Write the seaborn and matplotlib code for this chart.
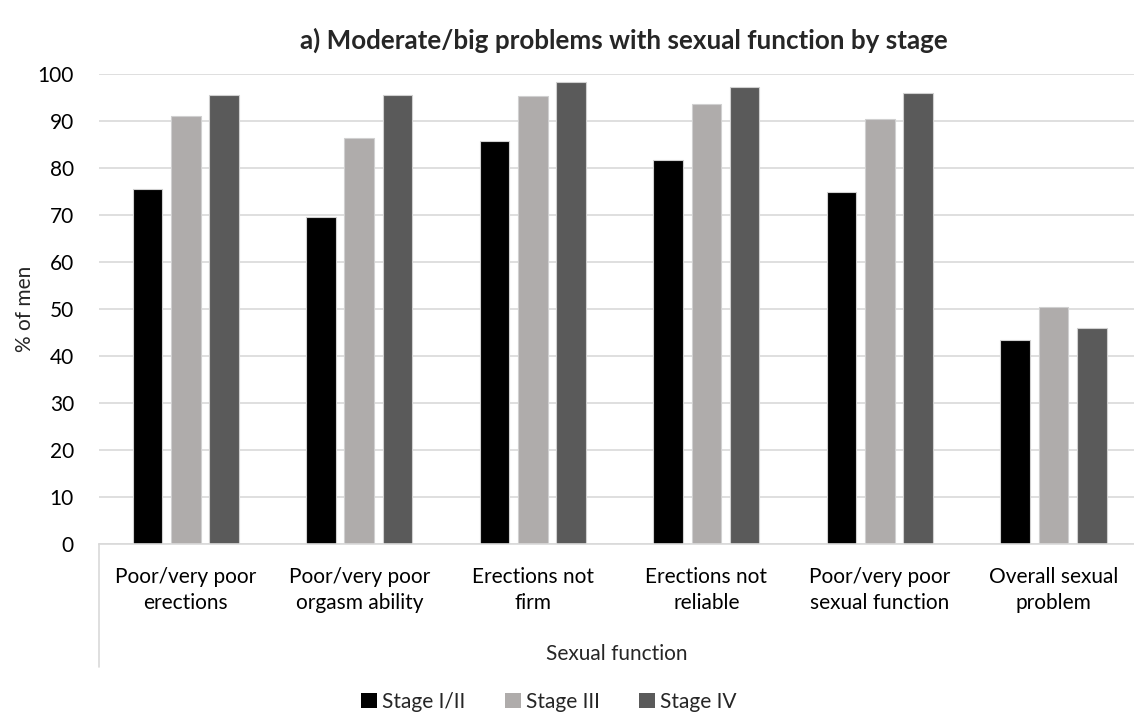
import matplotlib
matplotlib.use("Agg")
import matplotlib.pyplot as plt
import seaborn as sns
import pandas as pd
from matplotlib.patches import Patch

categories = ["Poor/very poor\nerections", "Poor/very poor\norgasm ability", "Erections not\nfirm",
              "Erections not\nreliable", "Poor/very poor\nsexual function", "Overall sexual\nproblem"]
stages = ["Stage I/II", "Stage III", "Stage IV"]
stage_1_2 = [75.5, 69.6, 85.8, 81.8, 75.0, 43.4]
stage_3 = [91.1, 86.4, 95.4, 93.7, 90.4, 50.4]
stage_4 = [95.6, 95.5, 98.2, 97.2, 96.0, 46.0]
colors = ["#000000", "#AFACAB", "#5A5A5A"]

rows = []
for s, vals in zip(stages, [stage_1_2, stage_3, stage_4]):
    for c, v in zip(categories, vals):
        rows.append({"cat": c, "stage": s, "val": v})
df = pd.DataFrame(rows)

sns.set_style("white")
plt.rcParams["font.family"] = ["Lato", "DejaVu Sans"]

W, H = 1134, 715
fig = plt.figure(figsize=(W / 100, H / 100), dpi=100)
ax = fig.add_axes([99 / W, 1 - 544.3 / H, (1134 - 99) / W, (544.3 - 74) / H])

sns.barplot(data=df, x="cat", y="val", hue="stage", order=categories, hue_order=stages,
            palette=colors, width=0.664, gap=0.23, ax=ax, legend=False,
            edgecolor="#D0D0D0", linewidth=0.8, saturation=1)

FS = 15
ax.set_ylim(0, 100)
ax.set_xlim(-0.5, 5.465)
ax.set_yticks(range(0, 101, 10))
ax.yaxis.grid(True, color="#D9D9D9", linewidth=1.2)
ax.set_axisbelow(True)
for sp in ["top", "right", "left"]:
    ax.spines[sp].set_visible(False)
ax.spines["bottom"].set_color("#D9D9D9")
ax.spines["bottom"].set_linewidth(1.2)
ax.tick_params(axis="both", length=0, labelsize=FS, colors="black")
ax.tick_params(axis="x", pad=16)
ax.tick_params(axis="y", pad=18)
for t in ax.get_xticklabels():
    t.set_linespacing(1.42)

ax.set_xlabel("Sexual function", fontsize=FS)
ax.set_ylabel("% of men", fontsize=FS)
ax.xaxis.set_label_coords((617 - 99) / (1134 - 99), -(654 - 544.3) / (544.3 - 74))
ax.yaxis.set_label_coords(-(99 - 25) / (1134 - 99), 0.5)
ax.xaxis.label.set_va("center")
ax.yaxis.label.set_va("center")

# multi-level category axis vertical line
ax.plot([0, 0], [0, -(667 - 544.3) / (544.3 - 74)], transform=ax.transAxes,
        color="#D9D9D9", linewidth=1.2, clip_on=False)

fig.text(624 / W, 1 - 40 / H, "a) Moderate/big problems with sexual function by stage",
         ha="center", va="center", fontsize=18.7, fontweight="bold")

handles = [Patch(facecolor=c, edgecolor="none") for c in colors]
fig.legend(handles, stages, loc="center", bbox_to_anchor=(549 / W, 1 - 702 / H), ncol=3,
           frameon=False, fontsize=FS, handlelength=0.75, handleheight=0.75,
           handletextpad=0.25, columnspacing=1.9)

fig.savefig("out.png", dpi=100)
